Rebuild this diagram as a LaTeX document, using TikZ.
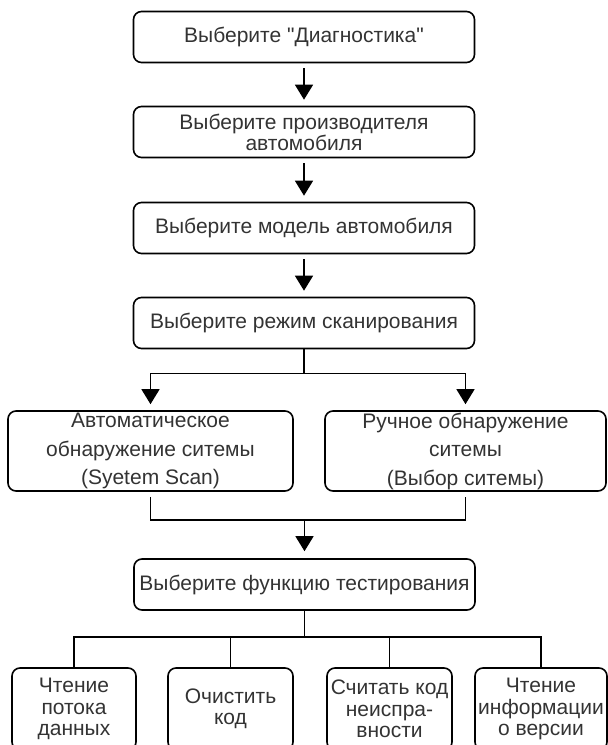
\documentclass[tikz,border=0pt]{standalone}
\usepackage{fontspec}
\setmainfont{Liberation Sans}[Ligatures=TeXOff]
\usepackage{xcolor}
\usetikzlibrary{arrows.meta}

\begin{document}
\begin{tikzpicture}[
  x=1pt, y=-1pt,
  >={Triangle[width=18pt,length=15pt]},
  line width=1.4pt,
  stepbox/.style={rectangle,rounded corners=8pt,draw,line width=1.6pt,align=center,inner sep=0pt,
    font={\fontsize{21}{21}\selectfont},text=black!80},
  wide/.style={stepbox,minimum width=341pt,minimum height=51pt},
  sysbox/.style={stepbox,minimum height=80pt,font={\fontsize{21}{28.5}\selectfont}},
  funcbox/.style={stepbox,minimum height=82pt,font={\fontsize{21}{21.5}\selectfont}},
  gap/.style={shorten <=5pt, shorten >=6pt}
]
\useasboundingbox (0,0) rectangle (608,745);
\clip (0,0) rectangle (608,745);

\node[wide] (diag) at (304,37) {Выберите "Диагностика"};
\node[wide] (maker) at (304,132) {Выберите производителя\\автомобиля};
\node[wide] (model) at (304,228) {Выберите модель автомобиля};
\node[wide] (mode) at (304,323) {Выберите режим сканирования};
\node[sysbox, minimum width=285pt] (auto) at (150.5,451) {Автоматическое\\обнаружение ситемы\\(Syetem Scan)};
\node[sysbox, minimum width=281pt] (manual) at (465.5,451) {Ручное обнаружение\\ситемы\\(Выбор ситемы)};
\node[wide] (func) at (304.5,584.5) {Выберите функцию тестирования};
\node[funcbox, minimum width=124pt] (data) at (74,709) {Чтение\\потока\\данных};
\node[funcbox, minimum width=125pt] (clear) at (230.5,709) {Очистить\\код};
\node[funcbox, minimum width=125pt] (dtc) at (389.5,709) {Считать код\\неиспра-\\вности};
\node[funcbox, minimum width=132pt] (info) at (541,709) {Чтение\\информации\\о версии};

% arrows
\draw[->,gap] (diag) -- (maker);
\draw[->,gap] (maker) -- (model);
\draw[->,gap] (model) -- (mode);

% scan mode split
\draw (mode.south) -- ++(0,24) coordinate (split);
\draw[->,shorten >=6pt] (split) -| (auto.north);
\draw[->,shorten >=6pt] (split) -| (manual.north);

% join back
\coordinate (join) at (func.north |- 0,520);
\draw[shorten <=5pt,shorten >=5pt] (auto.south) |- (join) -| (manual.south);
\draw[->,shorten >=7pt] (join) -- (func.north);

% test functions
\draw (func.south) -- ++(0,26) coordinate (fork);
\foreach \n in {data,clear,dtc,info}
  \draw (fork) -| (\n.north);
\end{tikzpicture}
\end{document}
